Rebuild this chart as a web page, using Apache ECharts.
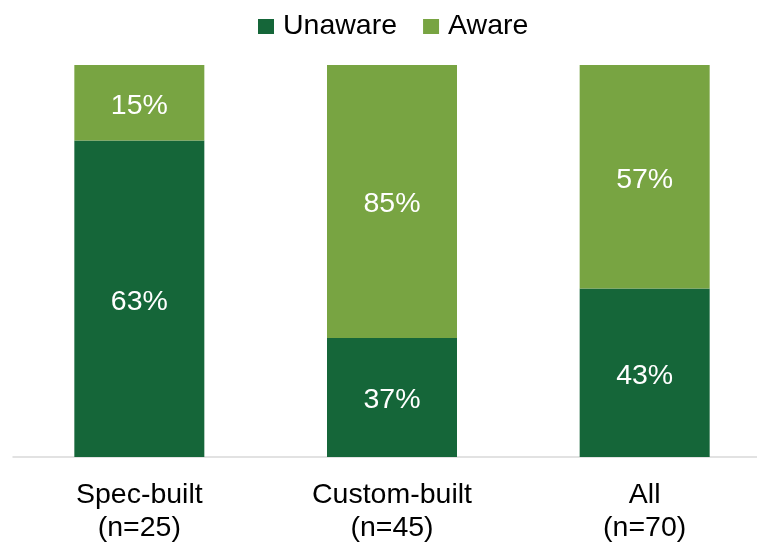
<!DOCTYPE html>
<html>
<head>
<meta charset="utf-8">
<script src="https://cdn.jsdelivr.net/npm/echarts@6/dist/echarts.min.js"></script>
<style>html,body{margin:0;padding:0;background:#fff;}#c{width:757px;height:542px;}</style>
</head>
<body>
<div id="c"></div>
<script>
var categories = ['Spec-built\n(n=25)', 'Custom-built\n(n=45)', 'All\n(n=70)'];
var unaware = [63, 37, 43];
var aware = [15, 85, 57];
var seriesNames = ['Unaware', 'Aware'];

// 100% stacked: each bar is normalised to its own total; labels show the source values
function shares(vals) {
  return vals.map(function (v, i) {
    return { value: v / (unaware[i] + aware[i]) * 100, raw: v };
  });
}

var font = 'Liberation Sans, Arial, sans-serif';
var chart = echarts.init(document.getElementById('c'), null, { renderer: 'canvas' });
chart.setOption({
  animation: false,
  color: ['#156639', '#78A442'],
  legend: {
    top: 12,
    left: 258,
    padding: 0,
    itemWidth: 16,
    itemHeight: 15,
    itemGap: 26,
    icon: 'rect',
    textStyle: { fontFamily: font, fontSize: 28.5, color: '#000', padding: [0, 0, 0, 4] },
    data: seriesNames
  },
  grid: { left: 13, width: 758, top: 65, bottom: 85, containLabel: false, outerBoundsMode: 'none' },
  xAxis: {
    type: 'category',
    data: categories,
    axisLine: { lineStyle: { color: '#D9D9D9', width: 1.5 } },
    axisTick: { show: false },
    axisLabel: { fontFamily: font, fontSize: 28.5, color: '#000', lineHeight: 33, margin: 22 }
  },
  yAxis: { type: 'value', min: 0, max: 100, show: false, splitLine: { show: false } },
  series: [
    {
      name: seriesNames[0], type: 'bar', stack: 't', barWidth: 130,
      data: shares(unaware),
      label: { show: true, position: 'inside', offset: [0, 3], color: '#fff', fontFamily: font, fontSize: 28.5,
        formatter: function (p) { return p.data.raw + '%'; } }
    },
    {
      name: seriesNames[1], type: 'bar', stack: 't', barWidth: 130,
      data: shares(aware),
      label: { show: true, position: 'inside', offset: [0, 3], color: '#fff', fontFamily: font, fontSize: 28.5,
        formatter: function (p) { return p.data.raw + '%'; } }
    }
  ]
});
</script>
</body>
</html>
